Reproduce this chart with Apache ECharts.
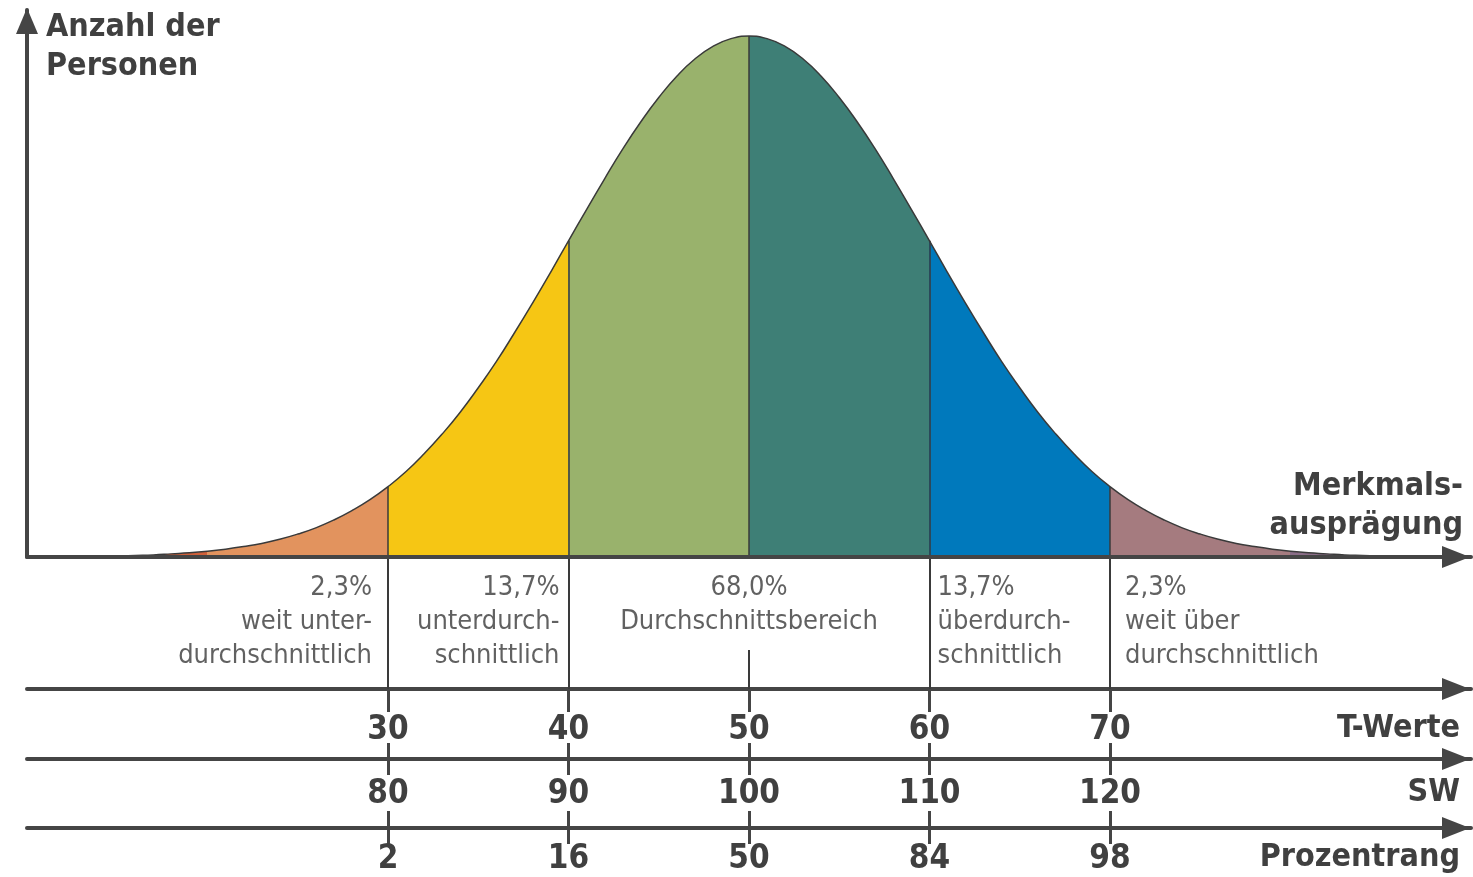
<!DOCTYPE html>
<html>
<head>
<meta charset="utf-8">
<script src="https://cdn.jsdelivr.net/npm/echarts@6/dist/echarts.min.js"></script>
<style>
html,body{margin:0;padding:0;background:#fff;}
#chart{width:1473px;height:877px;}
</style>
</head>
<body>
<div id="chart"></div>
<script>
// ---- data ----
const tValues = [10,11,12,13,14,15,16,17,18,19,20,21,22,23,24,25,26,27,28,29,30,31,32,33,34,35,36,37,38,39,40,41,42,43,44,45,46,47,48,49,50,
                 51,52,53,54,55,56,57,58,59,60,61,62,63,64,65,66,67,68,69,70,71,72,73,74,75,76,77,78,79,80,81,82,83,84,85,86,87,88,89,90];
const heights = [0.03,0.05,0.07,0.1,0.15,0.2,0.3,0.4,0.6,0.8,1.1,1.5,2.0,2.6,3.4,4.4,5.6,7.1,8.9,11.0,13.5,16.4,19.8,23.6,27.8,32.5,37.5,43.0,48.7,54.6,60.7,66.7,72.6,78.3,83.5,88.2,92.3,95.6,98.0,99.5,100,
                 99.5,98.0,95.6,92.3,88.2,83.5,78.3,72.6,66.7,60.7,54.6,48.7,43.0,37.5,32.5,27.8,23.6,19.8,16.4,13.5,11.0,8.9,7.1,5.6,4.4,3.4,2.6,2.0,1.5,1.1,0.8,0.6,0.4,0.3,0.2,0.15,0.1,0.07,0.05,0.03];
const segStarts = [10,20,30,40,50,60,70,80];
const segEnds   = [20,30,40,50,60,70,80,90];
const boundaryT = [30,40,50,60,70];
const swTicks = [80,90,100,110,120];
const prozentrang = [2,16,50,84,98];
const regionPct = ['2,3%','13,7%','68,0%','13,7%','2,3%'];
const regionText = ['weit unter-\ndurchschnittlich','unterdurch-\nschnittlich','Durchschnittsbereich','überdurch-\nschnittlich','weit über\ndurchschnittlich'];
const yTitle = 'Anzahl der\nPersonen';
const xTitle = 'Merkmals-\nausprägung';
const axisNames = ['T-Werte','SW','Prozentrang'];

// ---- styles ----
const segColors = ['#D0603A','#E2935E','#F6C614','#99B26C','#3E7F76','#0079BC','#A57B7F','#8A6D87'];
const AX = '#454545';
const FONT = '"DejaVu Sans Condensed","DejaVu Sans",sans-serif';
const TXT = '#3a3a3a';
const BOLD = '#404040';

const chart = echarts.init(document.getElementById('chart'), null, {renderer:'canvas'});

const curve = tValues.map((t,i)=>[t,heights[i]]);
const hAt = t => heights[tValues.indexOf(t)];

const GL = 27, GR = 2;
const arrowX = {show:true, lineStyle:{color:AX,width:4}, symbol:['none','triangle'], symbolSize:[22,28], symbolOffset:[0,-15]};

// labels in band below baseline
const bandData = regionPct.map((p,i)=>{
  let t, pos, dist, y;
  if (i < 2) { t = boundaryT[i]; pos = 'left'; dist = i===0 ? 16 : 9; y = 67; }
  else if (i === 2) { t = boundaryT[2]; pos = 'inside'; dist = 0; y = 84; }
  else { t = boundaryT[i]; pos = 'right'; dist = i===3 ? 8 : 15; y = 67; }
  return {value:[t,y], label:{show:true, position:pos, distance:dist,
    formatter: p + '\n' + regionText[i], align: pos==='left'?'right':(pos==='right'?'left':'center'),
    verticalAlign:'middle', fontFamily:FONT, fontSize:27, lineHeight:34, color:TXT}};
});

const numLabel = {fontFamily:FONT, fontSize:33, fontWeight:'bold', color:BOLD};
const wordFont = 'bold 32px ' + FONT;

const option = {
  animation:false,
  backgroundColor:'#fff',
  grid:[
    {left:GL, right:GR, top:10, bottom:320},        // curve
    {left:GL, right:GR, top:557, height:132},       // band with descriptions
    {left:GL, right:GR, top:688, height:1},         // T-Werte
    {left:GL, right:GR, top:758, height:1},         // SW
    {left:GL, right:GR, top:827, height:1}          // Prozentrang
  ],
  xAxis:[
    {gridIndex:0, type:'value', min:10, max:90, z:5, axisLine:arrowX, axisTick:{show:false}, axisLabel:{show:false}, splitLine:{show:false}},
    {gridIndex:1, type:'value', min:10, max:90, show:false},
    {gridIndex:2, type:'value', min:10, max:90, position:'bottom', axisLine:arrowX,
      axisTick:{show:true, customValues:boundaryT, length:23, lineStyle:{color:AX,width:3}},
      axisLabel:Object.assign({show:true, customValues:boundaryT, margin:25}, numLabel), splitLine:{show:false}},
    {gridIndex:3, type:'value', min:60, max:140, position:'bottom', axisLine:arrowX,
      axisTick:{show:true, customValues:swTicks, length:16, lineStyle:{color:AX,width:3}},
      axisLabel:Object.assign({show:true, customValues:swTicks, margin:19}, numLabel), splitLine:{show:false}},
    {gridIndex:3, type:'value', min:60, max:140, position:'bottom', axisLine:{show:false},
      axisTick:{show:true, inside:true, customValues:swTicks, length:16, lineStyle:{color:AX,width:3}},
      axisLabel:{show:false}, splitLine:{show:false}},
    {gridIndex:4, type:'value', min:10, max:90, position:'bottom', axisLine:arrowX,
      axisTick:{show:true, customValues:boundaryT, length:16, lineStyle:{color:AX,width:3}},
      axisLabel:Object.assign({show:true, customValues:boundaryT, margin:15,
        formatter:v=>String(prozentrang[boundaryT.indexOf(v)])}, numLabel), splitLine:{show:false}},
    {gridIndex:4, type:'value', min:10, max:90, position:'bottom', axisLine:{show:false},
      axisTick:{show:true, inside:true, customValues:boundaryT, length:17, lineStyle:{color:AX,width:3}},
      axisLabel:{show:false}, splitLine:{show:false}}
  ],
  yAxis:[
    {gridIndex:0, type:'value', min:0, max:105, z:5,
      axisLine:{show:true, lineStyle:{color:AX,width:4}, symbol:['none','triangle'], symbolSize:[22,26], symbolOffset:[0,-11]},
      axisTick:{show:false}, axisLabel:{show:false}, splitLine:{show:false}},
    {gridIndex:1, type:'value', min:0, max:132, show:false},
    {gridIndex:2, type:'value', min:0, max:1, show:false},
    {gridIndex:3, type:'value', min:0, max:1, show:false},
    {gridIndex:4, type:'value', min:0, max:1, show:false}
  ],
  visualMap:{
    show:false, type:'piecewise', dimension:0, seriesIndex:0,
    pieces: segStarts.map((s,i)=>({gte:s, lt:segEnds[i] + (i===segStarts.length-1?0.001:0), color:segColors[i]}))
  },
  series:[
    {type:'line', xAxisIndex:0, yAxisIndex:0, data:curve, smooth:true, showSymbol:false, symbol:'none',
      lineStyle:{width:0}, areaStyle:{opacity:1}, z:2},
    {type:'line', xAxisIndex:0, yAxisIndex:0, data:curve, smooth:true, showSymbol:false, symbol:'none',
      lineStyle:{width:1.5, color:'#3a3a3a'}, z:3,
      markLine:{silent:true, symbol:['none','none'], label:{show:false}, lineStyle:{color:'#3a3a3a', width:1.5, type:'solid'},
        data: boundaryT.map(t=>[{coord:[t,0]},{coord:[t,hAt(t)]}])}},
    {type:'scatter', xAxisIndex:1, yAxisIndex:1, symbolSize:0, data:bandData, z:3,
      markLine:{silent:true, symbol:['none','none'], label:{show:false}, lineStyle:{color:'#3a3a3a', width:2, type:'solid'},
        data: boundaryT.map(t=>[{coord:[t, 0]},{coord:[t, t===50 ? 39 : 132]}])}}
  ],
  graphic:[
    {type:'text', x:46, y:8, style:{text:yTitle, font:wordFont, fill:BOLD, lineHeight:39, align:'left', verticalAlign:'top'}},
    {type:'text', x:1463, y:467, style:{text:xTitle, font:wordFont, fill:BOLD, lineHeight:39, align:'right', verticalAlign:'top'}},
    {type:'text', x:1460, y:729, style:{text:axisNames[0], font:wordFont, fill:BOLD, align:'right', verticalAlign:'middle'}},
    {type:'text', x:1460, y:793, style:{text:axisNames[1], font:wordFont, fill:BOLD, align:'right', verticalAlign:'middle'}},
    {type:'text', x:1460, y:858, style:{text:axisNames[2], font:wordFont, fill:BOLD, align:'right', verticalAlign:'middle'}}
  ]
};
chart.setOption(option);
</script>
</body>
</html>
